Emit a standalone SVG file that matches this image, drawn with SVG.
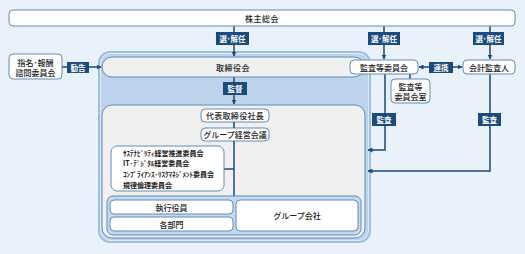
<svg xmlns="http://www.w3.org/2000/svg" width="525" height="254" viewBox="0 0 525 254">
<defs>
<marker id="ah" viewBox="0 0 10 10" refX="9" refY="5" markerWidth="5" markerHeight="5" orient="auto-start-reverse" markerUnits="userSpaceOnUse">
<path d="M0,0 L10,5 L0,10 z" fill="#1b4a7c"/>
</marker>
<style>
text{font-family:"Noto Sans CJK JP","Noto Sans",sans-serif;font-size:8px;font-weight:500;fill:#222;text-anchor:middle;dominant-baseline:central}
.box{fill:#fff;stroke:#5f8cbb;stroke-width:1}
.gbox{fill:#f0f0f0;stroke:#5f8cbb;stroke-width:1}
.lbl{fill:#1b4a7c}
.lt{fill:#fff;font-size:7.5px;font-weight:bold}
.ln{stroke:#1b4a7c;stroke-width:1.5;fill:none}
.sm{font-size:7px;font-weight:bold;text-anchor:start}
</style>
</defs>
<rect width="525" height="254" fill="#e9f1fa"/>

<g id="executive-area">
<rect x="99" y="52" width="271" height="190" rx="11" fill="#bcd3eb" stroke="#9fbfe0" stroke-width="2"/>
<rect x="100.5" y="53.5" width="268" height="187" rx="10" fill="none" stroke="#eaf2fb" stroke-width="0.8"/>
</g>

<g id="connectors">
<line class="ln" x1="234" y1="26" x2="234" y2="56" marker-end="url(#ah)"/>
<line class="ln" x1="384" y1="26" x2="384" y2="59" marker-end="url(#ah)"/>
<line class="ln" x1="490" y1="26" x2="490" y2="59" marker-end="url(#ah)"/>
<line class="ln" x1="62" y1="67" x2="101" y2="67" marker-end="url(#ah)"/>
<line class="ln" x1="419" y1="67" x2="462" y2="67" marker-start="url(#ah)" marker-end="url(#ah)"/>
<line class="ln" x1="410" y1="74" x2="410" y2="79"/>
<line class="ln" x1="234" y1="77" x2="234" y2="104" marker-end="url(#ah)"/>
<polyline class="ln" points="385,74 385,150 368,150" marker-end="url(#ah)"/>
<polyline class="ln" points="490,74 490,171 368,171" marker-end="url(#ah)"/>
</g>

<g id="shareholders">
<rect class="box" x="9" y="10" width="506" height="16" rx="4"/>
<text x="262" y="18" letter-spacing="0.5">株主総会</text>
</g>

<g id="label-elect1"><rect class="lbl" x="216" y="32" width="33" height="13"/><text class="lt" x="232.5" y="38.5">選･解任</text></g>
<g id="label-elect2"><rect class="lbl" x="368" y="32" width="32" height="13"/><text class="lt" x="384" y="38.5">選･解任</text></g>
<g id="label-elect3"><rect class="lbl" x="473" y="32" width="31" height="13"/><text class="lt" x="488.5" y="38.5">選･解任</text></g>

<g id="nomination">
<rect class="box" x="9" y="54" width="53" height="25" rx="4"/>
<text x="35.5" y="62">指名･報酬</text>
<text x="35.5" y="72">諮問委員会</text>
</g>
<g id="label-advice"><rect class="lbl" x="67" y="62" width="22" height="11"/><text class="lt" x="78" y="67.5">勧告</text></g>

<g id="board">
<rect class="gbox" x="102" y="57" width="262" height="20" rx="10"/>
<text x="233" y="67" letter-spacing="0.5">取締役会</text>
</g>

<g id="label-supervise"><rect class="lbl" x="223" y="82" width="24" height="13"/><text class="lt" x="235" y="88.5">監督</text></g>

<g id="audit-committee">
<rect class="box" x="350" y="60" width="68" height="14" rx="4"/>
<text x="384" y="67">監査等委員会</text>
</g>
<g id="label-coop"><rect class="lbl" x="429" y="62" width="24" height="11"/><text class="lt" x="441" y="67.5">連携</text></g>
<g id="auditor">
<rect class="box" x="463" y="60" width="52" height="14" rx="4"/>
<text x="489" y="67">会計監査人</text>
</g>
<g id="audit-office">
<rect class="box" x="391" y="79" width="39" height="24" rx="4"/>
<text x="410.5" y="86.5">監査等</text>
<text x="410.5" y="96">委員会室</text>
</g>
<g id="label-audit1"><rect class="lbl" x="372" y="113" width="24" height="13"/><text class="lt" x="384" y="119.5">監査</text></g>
<g id="label-audit2"><rect class="lbl" x="478" y="113" width="23" height="13"/><text class="lt" x="489.5" y="119.5">監査</text></g>

<g id="management">
<rect class="gbox" x="102" y="105" width="263" height="133" rx="10"/>
</g>

<g id="ceo">
<rect class="box" x="201" y="109" width="68" height="13" rx="4"/>
<text x="235" y="115.5" letter-spacing="0.3">代表取締役社長</text>
</g>
<g id="group-meeting">
<rect class="box" x="201" y="128" width="68" height="13" rx="4"/>
<text x="235" y="134.5">グループ経営会議</text>
</g>

<g id="conn-inner">
<line class="ln" x1="234" y1="122" x2="234" y2="128"/>
<line class="ln" x1="234" y1="141" x2="234" y2="196"/>
<line class="ln" x1="224" y1="169" x2="234" y2="169"/>
</g>

<g id="committees">
<rect class="box" x="111" y="146" width="113" height="45" rx="6"/>
<text class="sm" x="123" y="152.5">ｻｽﾃﾅﾋﾞﾘﾃｨ経営推進委員会</text>
<text class="sm" x="123" y="163">IT･ﾃﾞｼﾞﾀﾙ経営委員会</text>
<text class="sm" x="123" y="174">ｺﾝﾌﾟﾗｲｱﾝｽ･ﾘｽｸﾏﾈｼﾞﾒﾝﾄ委員会</text>
<text class="sm" x="123" y="184.5">規律倫理委員会</text>
</g>

<g id="operations">
<rect x="107" y="196" width="254" height="39" rx="6" fill="#c5d9ee" stroke="#5f8cbb" stroke-width="1"/>
</g>
<g id="officers">
<rect class="box" x="110" y="200" width="123" height="14" rx="4"/>
<text x="171.5" y="207">執行役員</text>
</g>
<g id="departments">
<rect class="box" x="110" y="217" width="123" height="14" rx="4"/>
<text x="171.5" y="224">各部門</text>
</g>
<g id="group-companies">
<rect class="box" x="236" y="200" width="122" height="31" rx="4"/>
<text x="297" y="215.5">グループ会社</text>
</g>
</svg>
